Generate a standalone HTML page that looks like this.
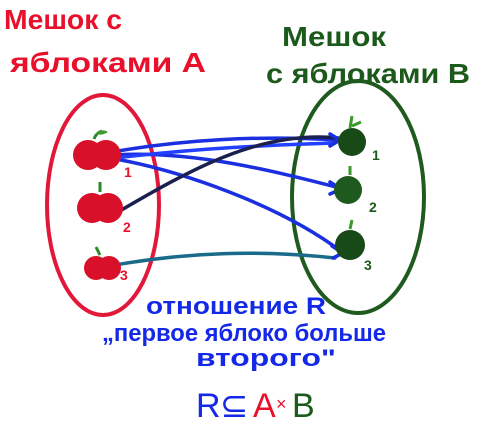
<!DOCTYPE html>
<html><head><meta charset="utf-8"><style>
html,body{margin:0;padding:0;background:#fff;}
svg{display:block;}
text{font-family:"Liberation Sans","DejaVu Sans",sans-serif;}
</style></head><body>
<svg width="492" height="429" viewBox="0 0 492 429">
<rect width="492" height="429" fill="#fff"/>
<g fill="#e8102a" font-weight="bold" font-size="28">
<text x="4" y="29" textLength="118" lengthAdjust="spacingAndGlyphs">Мешок с</text>
<text x="10" y="72" textLength="196" lengthAdjust="spacingAndGlyphs">яблоками A</text>
</g>
<g fill="#1c5a1c" font-weight="bold" font-size="28">
<text x="282" y="46" textLength="104" lengthAdjust="spacingAndGlyphs">Мешок</text>
<text x="266" y="83" textLength="204" lengthAdjust="spacingAndGlyphs">с яблоками B</text>
</g>
<ellipse cx="103" cy="205" rx="56" ry="110" fill="none" stroke="#e2183a" stroke-width="4"/>
<ellipse cx="358" cy="197" rx="66" ry="116" fill="none" stroke="#1f5a1f" stroke-width="4"/>
<g fill="none" stroke-width="3.5" stroke-linecap="round">
<path d="M112 152 C180 140 260 135 338 140" stroke="#1a2fe0"/>
<path d="M112 155 C190 150 270 170 340 188" stroke="#1a2fe0"/>
<path d="M110 158 C180 170 280 205 342 252" stroke="#1a2fe0"/>
<path d="M115 158 C200 148 270 145 335 143" stroke="#2240ff"/>
<path d="M118 212 C190 170 260 130 338 138" stroke="#1a2050"/>
<path d="M115 265 C190 252 260 250 335 258" stroke="#1a6a8a"/>
<path d="M330 134 L340 140 L330 146 M330 182 L341 189 L330 194 M332 246 L343 253 L333 258" stroke="#1a2fe0"/>
</g>
<g>
<g><circle cx="88" cy="155" r="15" fill="#d8102a"/><circle cx="106" cy="155" r="15" fill="#d8102a"/><path d="M94 139 q2 -6 8 -8" stroke="#2a8a2a" stroke-width="3" fill="none"/><path d="M96 134 q6 -6 12 -2 q-6 4 -12 2z" fill="#3a9a2a"/></g>
<g><circle cx="92" cy="208" r="15" fill="#d8102a"/><circle cx="108" cy="208" r="15" fill="#d8102a"/><path d="M100 192 l0 -10" stroke="#2a8a2a" stroke-width="3"/></g>
<g><circle cx="96" cy="268" r="12" fill="#d8102a"/><circle cx="109" cy="268" r="12" fill="#d8102a"/><path d="M100 255 l-4 -8" stroke="#2a8a2a" stroke-width="3"/></g>
</g>
<g>
<g><circle cx="352" cy="142" r="14" fill="#174a17"/><path d="M350 128 l2 -12 M352 126 l9 -4" stroke="#3a9a2a" stroke-width="3"/></g>
<g><circle cx="348" cy="190" r="14" fill="#1e5a1e"/><path d="M350 175 l0 -9" stroke="#3a9a2a" stroke-width="3"/></g>
<g><circle cx="350" cy="245" r="15" fill="#174a17"/><path d="M350 229 l2 -9" stroke="#3a9a2a" stroke-width="3"/></g>
</g>
<g fill="#e8102a" font-size="14" font-weight="bold">
<text x="124" y="177">1</text><text x="123" y="232">2</text><text x="120" y="280">3</text>
</g>
<g fill="#1c5a1c" font-size="14" font-weight="bold">
<text x="372" y="160">1</text><text x="369" y="212">2</text><text x="364" y="270">3</text>
</g>
<g fill="#1428e8" font-size="24" font-weight="bold">
<text x="146" y="314" textLength="180" lengthAdjust="spacingAndGlyphs">отношение R</text>
<text x="102" y="341" textLength="284" lengthAdjust="spacingAndGlyphs">„первое яблоко больше</text>
<text x="196" y="366" textLength="140" lengthAdjust="spacingAndGlyphs">второго"</text>
</g>
<g font-size="34">
<text x="196" y="417" fill="#1428e8">R</text>
<text x="220" y="417" fill="#1428e8">⊆</text>
<text x="253" y="417" fill="#e8102a">A</text>
<text x="276" y="410" fill="#e8102a" font-size="18">×</text>
<text x="292" y="417" fill="#1c5a1c">B</text>
</g>
</svg>
</body></html>
